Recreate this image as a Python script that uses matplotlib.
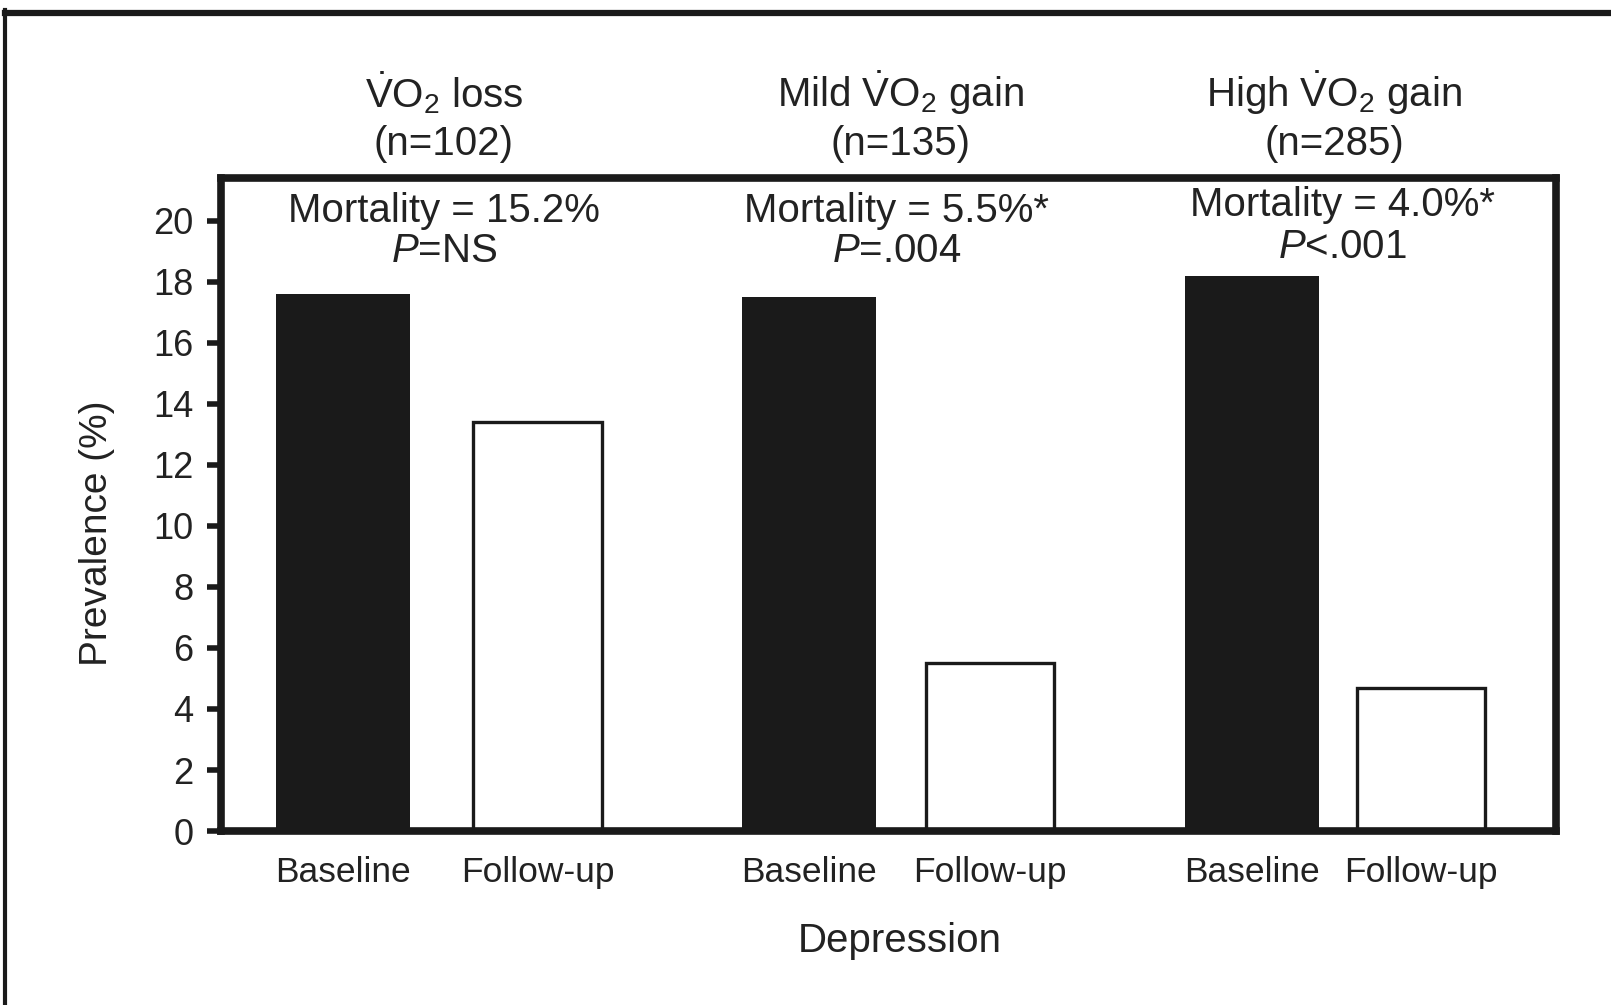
import matplotlib
matplotlib.use("Agg")
import matplotlib.pyplot as plt
from matplotlib.lines import Line2D

plt.rcParams['font.family'] = ['Liberation Sans', 'DejaVu Sans']
plt.rcParams['mathtext.fontset'] = 'custom'
plt.rcParams['mathtext.rm'] = 'Liberation Sans'
plt.rcParams['mathtext.it'] = 'Liberation Sans:italic'

# prevalence of depression (%) per group
groups = [r'$\dot{\mathrm{V}}\mathrm{O}_2$ loss',
          r'Mild $\dot{\mathrm{V}}\mathrm{O}_2$ gain',
          r'High $\dot{\mathrm{V}}\mathrm{O}_2$ gain']
group_n = ['(n=102)', '(n=135)', '(n=285)']
mortality = ['Mortality = 15.2%', 'Mortality = 5.5%*', 'Mortality = 4.0%*']
pvalues = [r'$\mathit{P}$=NS', r'$\mathit{P}$=.004', r'$\mathit{P}$<.001']
baseline = [17.6, 17.5, 18.2]
followup = [13.4, 5.5, 4.7]
bar_labels = ['Baseline', 'Follow-up'] * 3

# bar positions along x
base_x = [0.914, 4.404, 7.723]
follow_x = [2.371, 5.760, 8.989]
title_x = [1.67, 5.09, 8.34]
mort_x = [1.67, 5.06, 8.40]

ink = '#1a1a1a'
txt = '#222222'

fig = plt.figure(figsize=(16.11, 10.05), dpi=100)
ax = fig.add_axes([0.1372, 0.1731, 0.8287, 0.6498])

ax.bar(base_x, baseline, width=1.0, color=ink, edgecolor=ink, linewidth=0)
ax.bar(follow_x, followup, width=0.96, color='white', edgecolor=ink, linewidth=2.4)

ax.set_xlim(0, 10)
ax.set_ylim(0, 21.4)

for s in ax.spines.values():
    s.set_linewidth(5.5)
    s.set_color(ink)

ax.set_yticks(range(0, 21, 2))
ax.tick_params(axis='y', direction='out', length=10, width=4, color=ink,
               pad=10, labelsize=26, labelcolor=txt)

ticks_x = []
for b, f in zip(base_x, follow_x):
    ticks_x += [b, f]
ax.set_xticks(ticks_x)
ax.set_xticklabels(bar_labels)
ax.tick_params(axis='x', length=0, pad=18, labelsize=25.5, labelcolor=txt)

# group headings above and inside the frame
for i in range(3):
    ax.text(title_x[i], 24.2, groups[i], ha='center', va='center',
            fontsize=29, color=txt, clip_on=False)
    ax.text(title_x[i], 22.5, group_n[i], ha='center', va='center',
            fontsize=29, color=txt, clip_on=False)
mort_y = [20.33, 20.33, 20.52]
p_y = [19.0, 19.0, 19.15]
for i in range(3):
    ax.text(mort_x[i], mort_y[i], mortality[i], ha='center', va='center',
            fontsize=29, color=txt)
    ax.text(mort_x[i], p_y[i], pvalues[i], ha='center', va='center',
            fontsize=29, color=txt)

fig.text(900 / 1611, 1 - 941 / 1005, 'Depression', ha='center', va='center',
         fontsize=29, color=txt)
fig.text(97 / 1611, 1 - 533 / 1005, 'Prevalence (%)', ha='center', va='center',
         rotation=90, fontsize=28, color=txt)

# outer frame (top and left edges)
fig.add_artist(Line2D([0.0028, 1.0], [1 - 13 / 1005, 1 - 13 / 1005],
                      transform=fig.transFigure, color=ink, linewidth=4.5))
fig.add_artist(Line2D([4.5 / 1611, 4.5 / 1611], [0.0, 1 - 10 / 1005],
                      transform=fig.transFigure, color=ink, linewidth=3))

fig.savefig('out.png', dpi=100)
